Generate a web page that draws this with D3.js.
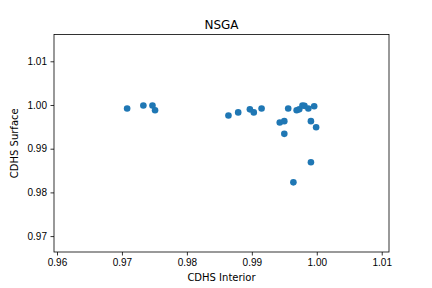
<!DOCTYPE html>
<html>
<head>
<meta charset="utf-8">
<script src="https://cdn.jsdelivr.net/npm/d3@7"></script>
<style>
  body { margin: 0; background: #fff; }
  svg { display: block; font-family: "DejaVu Sans", sans-serif; }
  .axis path, .axis line { stroke: #000; stroke-width: 0.8; }
  .axis text { font-size: 10px; fill: #000; }
</style>
</head>
<body>
<svg id="chart" width="432" height="288"></svg>
<script>
// CDHS Interior / CDHS Surface pairs
const interior = [0.9708, 0.9733, 0.9747, 0.9751, 0.9864, 0.9879, 0.9897, 0.9903,
  0.9915, 0.9943, 0.9950, 0.9950, 0.9956, 0.9964, 0.9969, 0.9973, 0.9978, 0.9981,
  0.9987, 0.9996, 0.9991, 0.9999, 0.9991];
const surface = [0.9992, 0.9999, 0.9999, 0.9988, 0.9976, 0.9983, 0.9990, 0.9983,
  0.9992, 0.9960, 0.9963, 0.9934, 0.9992, 0.9823, 0.9988, 0.9990, 0.9999, 0.9998,
  0.9992, 0.9997, 0.9963, 0.9949, 0.9869];
const xTicks = [0.96, 0.97, 0.98, 0.99, 1.00, 1.01];
const yTicks = [0.97, 0.98, 0.99, 1.00, 1.01];

const plotLeft = 54, plotRight = 389, plotTop = 34.5, plotBottom = 252;
const svg = d3.select('#chart');

const x = d3.scaleLinear().domain([0.95954, 1.01112]).range([plotLeft, plotRight]);
const y = d3.scaleLinear().domain([0.96636, 1.01613]).range([plotBottom, plotTop]);

const xAxis = d3.axisBottom(x).tickValues(xTicks).tickFormat(d3.format('.2f'))
  .tickSize(3.5).tickPadding(3.5);
const yAxis = d3.axisLeft(y).tickValues(yTicks).tickFormat(d3.format('.2f'))
  .tickSize(3.5).tickPadding(3.5);

svg.append('g').attr('class', 'axis')
  .attr('transform', `translate(0,${plotBottom})`)
  .call(xAxis)
  .call(g => g.select('.domain').remove());
svg.append('g').attr('class', 'axis')
  .attr('transform', `translate(${plotLeft},0)`)
  .call(yAxis)
  .call(g => g.select('.domain').remove());

// frame
svg.append('rect')
  .attr('x', plotLeft).attr('y', plotTop)
  .attr('width', plotRight - plotLeft).attr('height', plotBottom - plotTop)
  .attr('fill', 'none').attr('stroke', '#000').attr('stroke-width', 0.8);

svg.append('g')
  .selectAll('circle')
  .data(interior.map((v, i) => [v, surface[i]]))
  .enter().append('circle')
  .attr('cx', d => x(d[0]))
  .attr('cy', d => y(d[1]))
  .attr('r', 3.3)
  .attr('fill', '#1f77b4');

svg.append('text')
  .attr('x', (plotLeft + plotRight) / 2).attr('y', 28.5)
  .attr('text-anchor', 'middle')
  .style('font-size', '12px')
  .text('NSGA');

svg.append('text')
  .attr('x', (plotLeft + plotRight) / 2).attr('y', 281)
  .attr('text-anchor', 'middle')
  .style('font-size', '10px')
  .text('CDHS Interior');

svg.append('text')
  .attr('transform', `translate(18,${(plotTop + plotBottom) / 2}) rotate(-90)`)
  .attr('text-anchor', 'middle')
  .style('font-size', '10px')
  .text('CDHS Surface');
</script>
</body>
</html>
